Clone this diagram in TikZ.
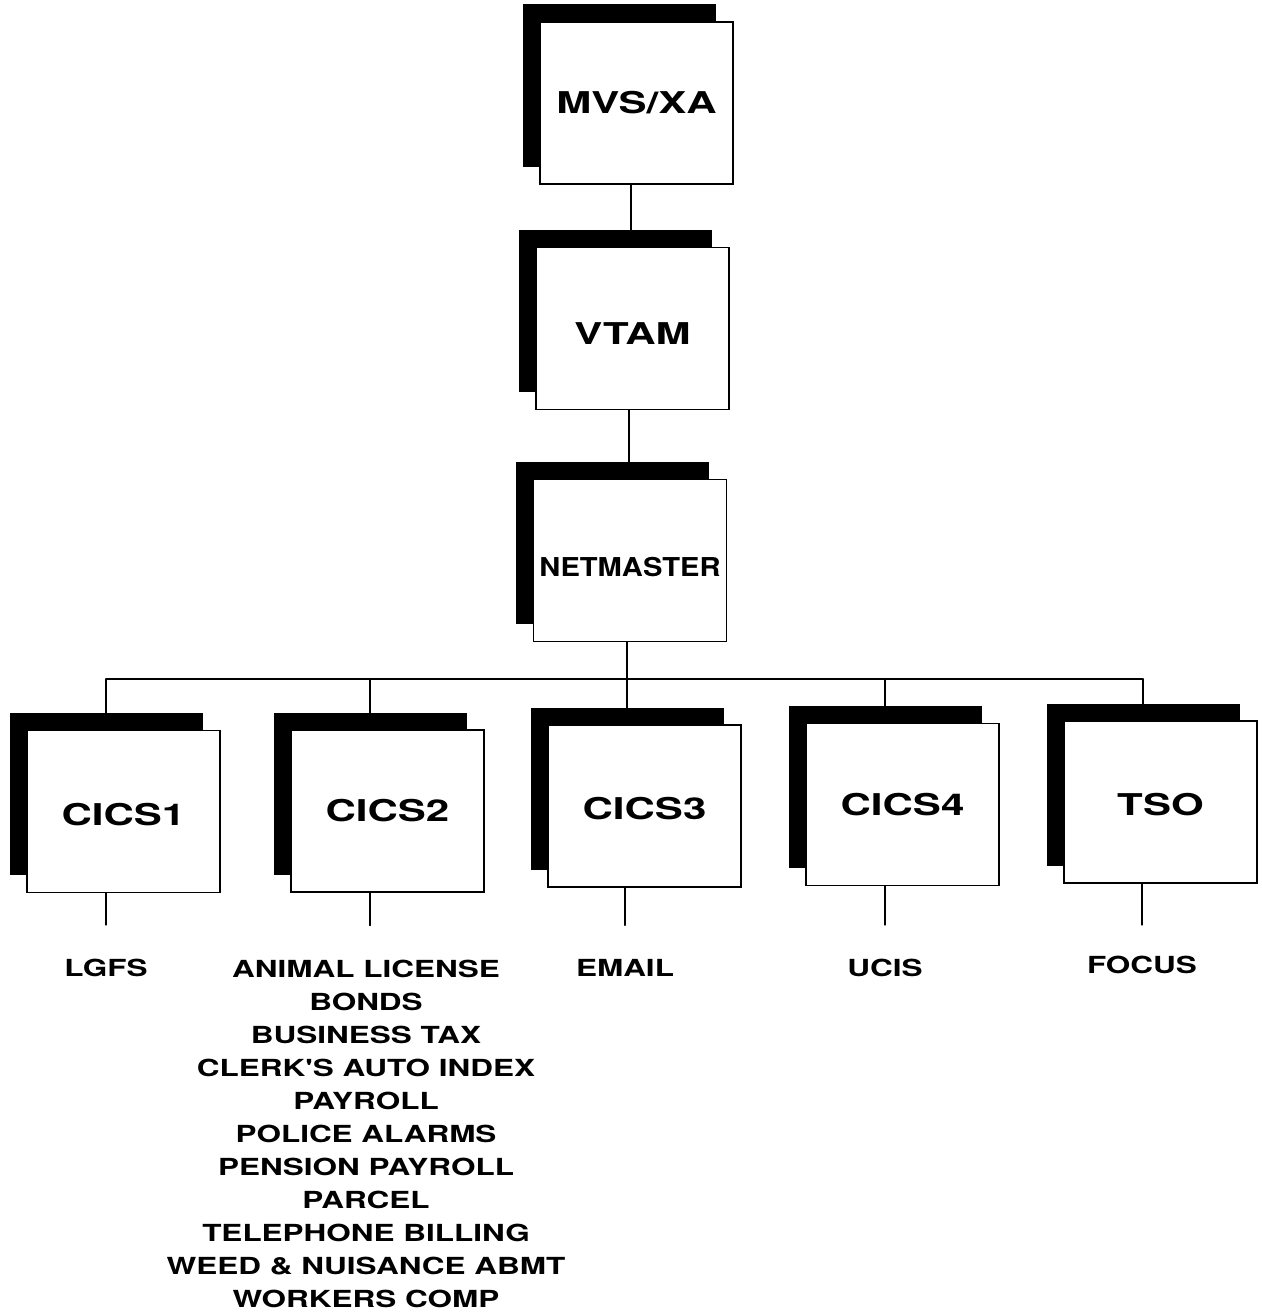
\documentclass[tikz,border=0pt]{standalone}
\usepackage{fontspec}
\setmainfont{TeX Gyre Heros}
\newfontfamily\bigfont{TeX Gyre Heros}[FakeStretch=1.4]
\newfontfamily\netfont{TeX Gyre Heros}[FakeStretch=1.12]
\newfontfamily\lblfont{TeX Gyre Heros}[FakeStretch=1.34]
\usetikzlibrary{shadows,backgrounds}
\newcommand\lowr[2]{\raisebox{-#1}[\height][\depth]{#2}}
\begin{document}
\begin{tikzpicture}[x=1pt,y=-1pt,
  sysbox/.style={draw=black, line width=1.8pt, fill=white,
    minimum width=193pt, minimum height=162pt, inner sep=0pt,
    general shadow={fill=black, shadow xshift=-17.5pt, shadow yshift=17.5pt},
    font=\bigfont\bfseries\fontsize{30}{36}\selectfont},
  netbox/.style={sysbox, font=\netfont\bfseries\fontsize{26}{32}\selectfont},
  lbl/.style={inner sep=0pt, align=center,
    font=\lblfont\bfseries\fontsize{23.5}{33}\selectfont},
  wire/.style={line width=1.4pt, line cap=round}]
\useasboundingbox (0,0) rectangle (1261,1314);

\node[sysbox] (mvs)  at (636.5,103)   {MVS/XA};
\node[sysbox] (vtam) at (632.5,328.5) {\lowr{5pt}{VTAM}};
\node[netbox] (net)  at (630,560.5)   {\lowr{7pt}{NETMASTER}};
\node[sysbox] (c1)   at (123.5,811.5) {\lowr{3pt}{CICS1}};
\node[sysbox] (c2)   at (387.5,811)   {CICS2};
\node[sysbox] (c3)   at (644.5,806)   {\lowr{3pt}{CICS3}};
\node[sysbox] (c4)   at (902.5,804.5) {CICS4};
\node[sysbox] (tso)  at (1160.5,802)  {\lowr{3pt}{TSO}};

\node[lbl] (l1) at (106,968) {LGFS};
\node[lbl, anchor=north] (l2) at (366,959.5) {ANIMAL LICENSE\\BONDS\\BUSINESS TAX\\CLERK'S AUTO INDEX\\PAYROLL\\POLICE ALARMS\\PENSION PAYROLL\\PARCEL\\TELEPHONE BILLING\\WEED \& NUISANCE ABMT\\WORKERS COMP};
\node[lbl] (l3) at (625,968) {EMAIL};
\node[lbl] (l4) at (885,968) {UCIS};
\node[lbl] (l5) at (1142,965) {FOCUS};

\coordinate (busy) at (0,679);
\coordinate (k1) at ([xshift=-17.5pt]c1.center);
\coordinate (k2) at ([xshift=-17.5pt]c2.center);
\coordinate (k3) at ([xshift=-17.5pt]c3.center);
\coordinate (k4) at ([xshift=-17.5pt]c4.center);
\coordinate (k5) at ([xshift=-17.5pt]tso.center);
\coordinate (kn) at ([xshift=-3pt]net.center);

\begin{scope}[on background layer]
\draw[wire] ([xshift=-5.5pt]mvs.center) -- ([xshift=-5.5pt]mvs.center |- vtam.center);
\draw[wire] ([xshift=-3.5pt]vtam.center) -- ([xshift=-3.5pt]vtam.center |- net.center);
\draw[wire] (kn) -- (kn |- busy);
\draw[wire] (k1 |- busy) -- (k5 |- busy);
\foreach \k in {k1,k2,k3,k4,k5} {\draw[wire] (\k |- busy) -- (\k);}
\draw[wire, shorten >=34pt] (c1.center -| l1.north) -- (l1.north);
\draw[wire, shorten >=34pt] ([xshift=-17.5pt]c2.center) -- ([xshift=-17.5pt]c2.center |- l2.north);
\draw[wire, shorten >=34pt] (c3.center -| l3.north) -- (l3.north);
\draw[wire, shorten >=34pt] (c4.center -| l4.north) -- (l4.north);
\draw[wire, shorten >=31pt] (tso.center -| l5.north) -- (l5.north);
\end{scope}
\end{tikzpicture}
\end{document}
